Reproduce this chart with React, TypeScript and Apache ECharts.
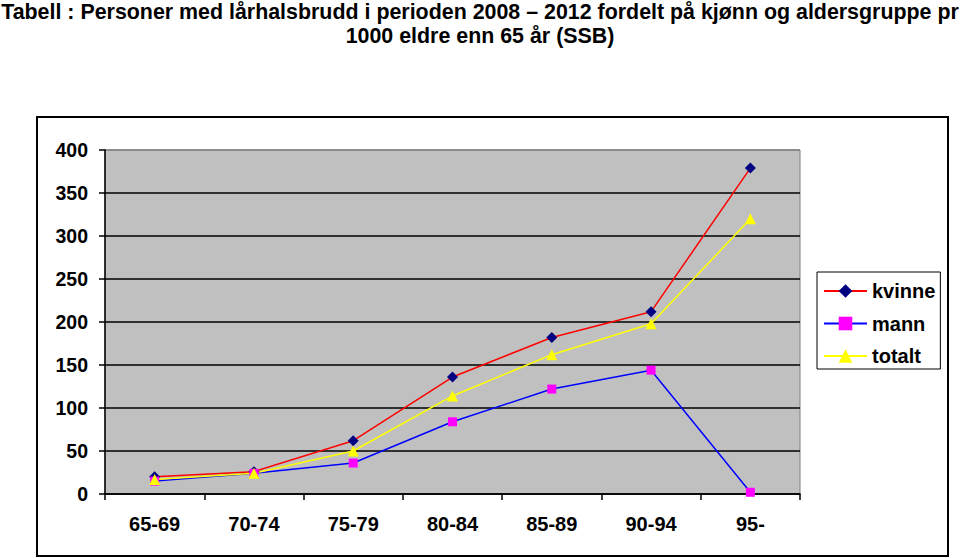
import React, { useEffect, useRef } from "react";
import * as echarts from "echarts";

const categories = ["65-69", "70-74", "75-79", "80-84", "85-89", "90-94", "95-"];
const kvinne = [20, 26, 62, 136, 182, 212, 379];
const mann = [15, 24, 36, 84, 122, 144, 2];
const totalt = [17, 24, 50, 114, 162, 198, 320];
const titleLines = [
  "Tabell : Personer med lårhalsbrudd i perioden 2008 – 2012 fordelt på kjønn og aldersgruppe pr",
  "1000 eldre enn 65 år (SSB)",
];

const FONT = "'Liberation Sans', Arial, sans-serif";

export default function App() {
  const ref = useRef<HTMLDivElement>(null);
  useEffect(() => {
    document.body.style.margin = "0";
    if (!ref.current) return;
    const chart = echarts.init(ref.current, null, { renderer: "svg" });
    chart.setOption({
      animation: false,
      backgroundColor: "#ffffff",
      title: {
        text: titleLines.join("\n"),
        left: "center",
        top: -5,
        textStyle: {
          fontFamily: FONT,
          fontWeight: "bold",
          fontSize: 21.4,
          lineHeight: 24,
          color: "#000",
        },
      },
      graphic: [
        {
          type: "rect",
          shape: { x: 37, y: 117, width: 911, height: 439 },
          style: { fill: "none", stroke: "#000", lineWidth: 2 },
          silent: true,
          z: -1,
        },
      ],
      legend: {
        orient: "vertical",
        left: 817,
        top: 272,
        padding: [9, 5, 3, 6],
        itemGap: 12.5,
        itemWidth: 43,
        itemHeight: 17,
        borderColor: "#000",
        borderWidth: 1,
        backgroundColor: "#fff",
        textStyle: {
          fontFamily: FONT,
          fontWeight: "bold",
          fontSize: 20,
          lineHeight: 17,
          color: "#000",
        },
        data: ["kvinne", "mann", "totalt"],
      },
      grid: {
        left: 105,
        right: 160,
        top: 150,
        bottom: 64,
        show: true,
        backgroundColor: "#C0C0C0",
        borderColor: "#808080",
        borderWidth: 1,
      },
      xAxis: {
        type: "category",
        data: categories,
        boundaryGap: true,
        axisLine: { lineStyle: { color: "#000", width: 1.5 } },
        axisTick: { show: true, length: 6, lineStyle: { color: "#000", width: 1.5 } },
        axisLabel: {
          margin: 20,
          fontFamily: FONT,
          fontWeight: "bold",
          fontSize: 20,
          color: "#000",
        },
        splitLine: { show: false },
      },
      yAxis: {
        type: "value",
        min: 0,
        max: 400,
        interval: 50,
        axisLine: { show: true, lineStyle: { color: "#000", width: 1.5 } },
        axisTick: { show: true, length: 6, lineStyle: { color: "#000", width: 1.5 } },
        axisLabel: {
          margin: 17,
          fontFamily: FONT,
          fontWeight: "bold",
          fontSize: 19.5,
          color: "#000",
        },
        splitLine: {
          show: true,
          lineStyle: {
            color: ["#000", "#000", "#000", "#000", "#000", "#000", "#000", "#000", "#808080"],
            width: 1.5,
          },
        },
      },
      series: [
        {
          name: "kvinne",
          type: "line",
          data: kvinne,
          symbol: "diamond",
          symbolSize: 11,
          lineStyle: { color: "#FF0000", width: 1.5 },
          itemStyle: { color: "#000080" },
        },
        {
          name: "mann",
          type: "line",
          data: mann,
          symbol: "rect",
          symbolSize: 9,
          lineStyle: { color: "#0000FF", width: 1.5 },
          itemStyle: { color: "#FF00FF" },
        },
        {
          name: "totalt",
          type: "line",
          data: totalt,
          symbol: "triangle",
          symbolSize: 11,
          lineStyle: { color: "#FFFF00", width: 1.5 },
          itemStyle: { color: "#FFFF00" },
        },
      ],
    });
    return () => chart.dispose();
  }, []);
  return <div ref={ref} style={{ width: 960, height: 558 }} />;
}
